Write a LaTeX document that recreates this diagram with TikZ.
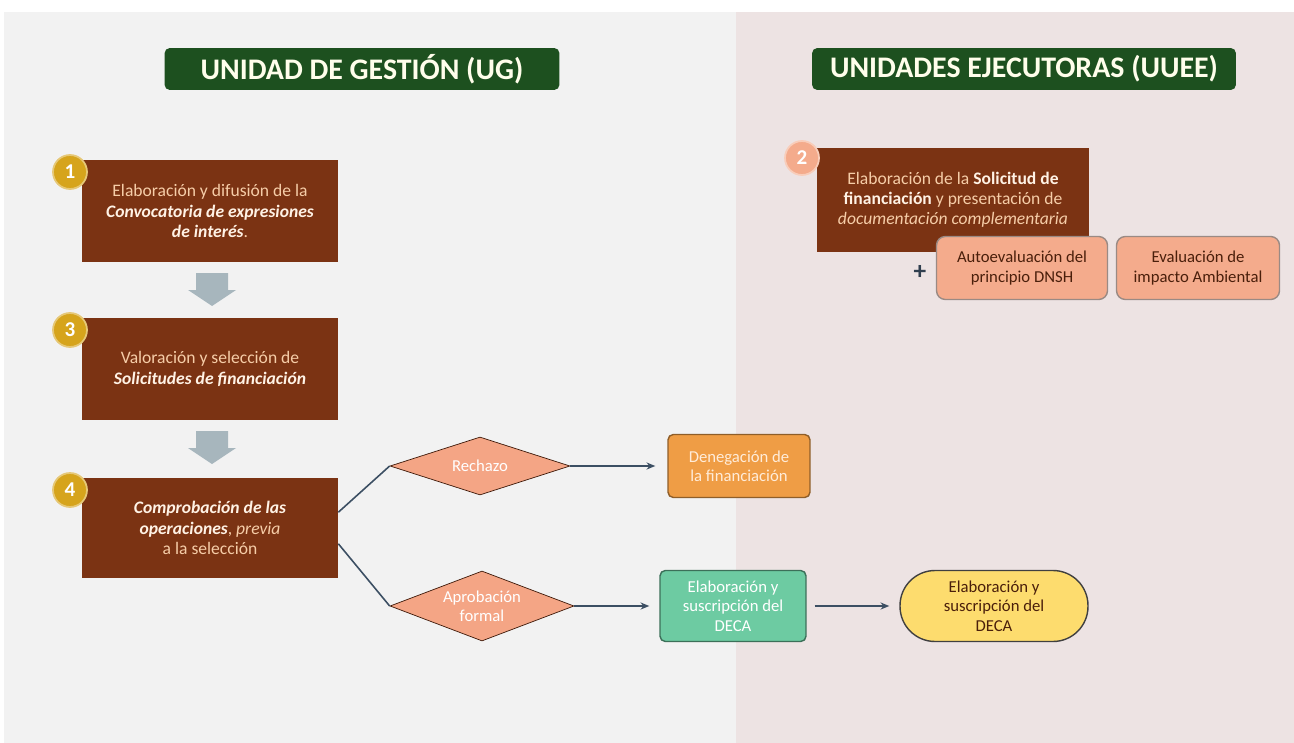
\documentclass[tikz,border=0pt]{standalone}
\usepackage{fontspec}
\setmainfont{Carlito}
\usetikzlibrary{shapes.geometric,arrows.meta}
\definecolor{fondoug}{HTML}{F2F2F2}
\definecolor{fondouee}{HTML}{EDE3E3}
\definecolor{verdecab}{HTML}{1D501F}
\definecolor{marron}{HTML}{7B3313}
\definecolor{melocoton}{HTML}{F6CDA8}
\definecolor{oro}{HTML}{D6A41C}
\definecolor{salmon}{HTML}{F4AB8C}
\definecolor{salmonborde}{HTML}{9A8A84}
\definecolor{rombo}{HTML}{F4A585}
\definecolor{naranja}{HTML}{EF9D45}
\definecolor{verdeagua}{HTML}{6DCBA2}
\definecolor{amarillo}{HTML}{FDDC6E}
\definecolor{pizarra}{HTML}{3C4F63}
\definecolor{grisflecha}{HTML}{A7B6BD}

\begin{document}
\begin{tikzpicture}[
  x=0.02cm,y=-0.02cm,
  cabecera/.style={rectangle,rounded corners=3pt,fill=verdecab,text=white!92!yellow,
    minimum height=0.84cm,font=\fontsize{17}{20}\selectfont\bfseries},
  paso/.style={rectangle,fill=marron,text=melocoton,minimum width=5.12cm,
    minimum height=2.04cm,align=center,font=\fontsize{10}{11.5}\selectfont},
  numero/.style={circle,fill=#1,draw=#1!60!white,line width=1pt,text=white,
    minimum size=0.68cm,inner sep=0pt,font=\bfseries\fontsize{12}{14}\selectfont},
  extra/.style={rectangle,rounded corners=5pt,fill=salmon,draw=salmonborde,thick,
    text=marron!60!black,minimum height=1.26cm,align=center,font=\fontsize{9.5}{11}\selectfont},
  decision/.style={diamond,shape aspect=2.6,fill=rombo,draw=marron!50!black,inner sep=0pt,
    minimum width=3.6cm,minimum height=#1,text=white,align=center,
    font=\fontsize{9.5}{11}\selectfont},
  resultado/.style={rectangle,rounded corners=3pt,thick,align=center,
    minimum width=2.9cm,font=\fontsize{9.5}{11}\selectfont},
  linea/.style={pizarra,line width=0.9pt},
  flecha/.style={pizarra,line width=0.9pt,-{Stealth[length=5pt,width=4pt]}}
]
  \useasboundingbox (0,0) rectangle (1294,743);
  \fill[white] (0,0) rectangle (1294,743);
  \fill[fondoug] (4,12) rectangle (736,743);
  \fill[fondouee] (736,12) rectangle (1294,743);

  \node[cabecera,minimum width=7.9cm] (ug) at (362,69) {UNIDAD DE GESTIÓN (UG)};
  \node[cabecera,minimum width=8.48cm] (uuee) at (1024,69) {UNIDADES EJECUTORAS (UUEE)};

  \node[paso] (p1) at (210,211) {Elaboración y difusión de la\\
    \textbf{\textit{\color{white!90!orange}Convocatoria de expresiones}}\\
    \textbf{\textit{\color{white!90!orange}de interés}}.};
  \node[paso] (p3) at (210,369) {Valoración y selección de\\
    \textbf{\textit{\color{white!90!orange}Solicitudes de financiación}}};
  \node[paso,minimum height=2cm] (p4) at (210,528) {\textbf{\textit{\color{white!90!orange}Comprobación de las}}\\
    \textbf{\textit{\color{white!90!orange}operaciones}}, \textit{previa}\\ a la selección};
  \node[paso,minimum width=5.46cm,minimum height=2.08cm] (p2) at (953,200) {Elaboración de la \textbf{\color{white!90!orange}Solicitud de}\\
    \textbf{\color{white!90!orange}financiación} y presentación de\\
    \textit{documentación complementaria}};

  \node[numero=oro] (n1) at (70,172) {1};
  \node[numero=oro] (n3) at (70,330) {3};
  \node[numero=oro] (n4) at (70,490) {4};
  \node[numero=salmon] (n2) at (802,158) {2};

  \node[extra,minimum width=3.42cm] (dnsh) at (1022,268) {Autoevaluación del\\ principio DNSH};
  \node[extra,minimum width=3.26cm] (eia) at (1198,268) {Evaluación de\\ impacto Ambiental};
  \node[text=pizarra!80!black,font=\Large\bfseries] (mas) at (920,272) {+};

  % flechas grises entre pasos
  \foreach \y/\l in {273/17,431/17}
    \fill[grisflecha] (196,\y) -- (228,\y) -- (228,\y+\l) -- (236,\y+\l)
      -- (212,\y+\l+16) -- (188,\y+\l) -- (196,\y+\l) -- cycle;

  \node[decision=1.16cm] (rech) at (480,466) {Rechazo};
  \node[decision=1.4cm,minimum width=3.68cm] (aprob) at (482,606) {Aprobación\\ formal};

  \node[resultado,fill=naranja,draw=naranja!60!black,text=white!85!orange,
    minimum width=2.84cm,minimum height=1.26cm] (deneg) at (739,466) {Denegación de\\ la financiación};
  \node[resultado,fill=verdeagua,draw=verdeagua!55!black,text=white,
    minimum width=2.92cm,minimum height=1.42cm] (decaug) at (733,606) {Elaboración y\\ suscripción del\\ DECA};
  \node[resultado,rounded corners=0.7cm,fill=amarillo,draw=black!75,text=marron!60!black,
    minimum width=3.76cm,minimum height=1.42cm] (decauee) at (994,606) {Elaboración y\\ suscripción del\\ DECA};

  \draw[linea] (p4.7) -- (rech.west) (p4.-7) -- (aprob.west);
  \draw[flecha,shorten >=0.24cm] (rech.east) -- (deneg.west);
  \draw[flecha,shorten >=0.2cm] (aprob.east) -- (decaug.west);
  \draw[flecha,shorten <=0.16cm,shorten >=0.2cm] (decaug.east) -- (decauee.west);
\end{tikzpicture}
\end{document}
